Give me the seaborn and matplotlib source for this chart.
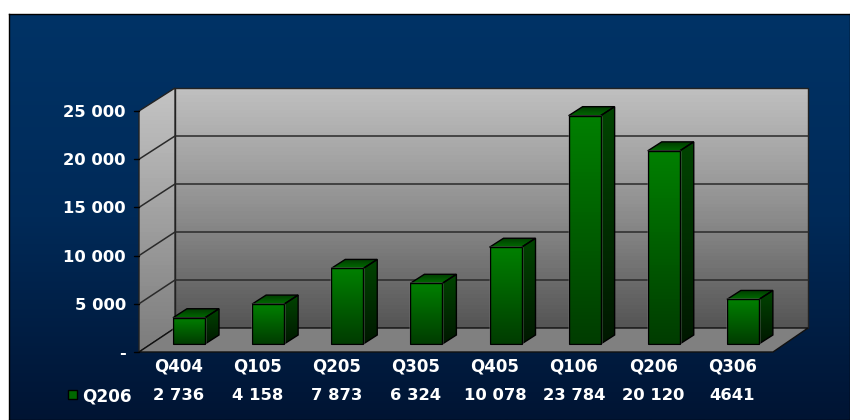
import matplotlib
matplotlib.use("Agg")
import matplotlib.pyplot as plt
import numpy as np
import pandas as pd
import seaborn as sns
from matplotlib.colors import LinearSegmentedColormap
from matplotlib.patches import Polygon, Rectangle

quarters = ["Q404", "Q105", "Q205", "Q305", "Q405", "Q106", "Q206", "Q306"]
values = [2736, 4158, 7873, 6324, 10078, 23784, 20120, 4641]
table_labels = ["2 736", "4 158", "7 873", "6 324", "10 078", "23 784", "20 120", "4641"]
y_ticks = [0, 5000, 10000, 15000, 20000, 25000]
y_labels = ["-", "5 000", "10 000", "15 000", "20 000", "25 000"]
series_name = "Q206"

sns.set_theme(style="white")
plt.rcParams["font.family"] = ["DejaVu Sans"]

W, H = 850, 420
df = pd.DataFrame({"quarter": quarters, "value": values})

fig = plt.figure(figsize=(W / 100, H / 100), dpi=100, facecolor="white")


def cmap(*cols):
    return LinearSegmentedColormap.from_list("g", cols)


# page background
bg = fig.add_axes([9 / W, 0, 1 - 9 / W, 1 - 14 / H])
bg.imshow(np.linspace(0, 1, 256).reshape(-1, 1), aspect="auto",
          cmap=cmap("#003366", "#002a58", "#001433"))
bg.set_xticks([])
bg.set_yticks([])
for s in bg.spines.values():
    s.set_color("black")
    s.set_linewidth(1)

# chart axes fill the figure, so walls and floor are not cut off
# category i is centred on pixel 189 + 79.125 * i, value 0 is on pixel row 344, 240px = 25000
PX = 1 / 79.125
PY = 25000 / 240


def px(x):
    return (x - 189) * PX


def py(y):
    return (344 - y) * PY


ax = fig.add_axes([0, 0, 1, 1])
ax.patch.set_alpha(0)
sns.barplot(data=df, x="quarter", y="value", ax=ax, color="#008000",
            width=32 / 79.125, saturation=1, zorder=5)
ax.set_axis_off()


def shade(pts, colors, z, edge="black", lw=1.0):
    # gradient filled polygon, pts in data units
    pts = np.array(pts)
    poly = Polygon(pts, closed=True, fc="none", ec="none")
    ax.add_patch(poly)
    im = ax.imshow(np.linspace(0, 1, 64).reshape(-1, 1), cmap=cmap(*colors), aspect="auto",
                   extent=(pts[:, 0].min(), pts[:, 0].max(), pts[:, 1].min(), pts[:, 1].max()),
                   zorder=z)
    im.set_clip_path(poly)
    ax.add_patch(Polygon(pts, closed=True, fc="none", ec=edge, lw=lw, zorder=z + 0.1))


# walls and floor
fx0, fx1, bx0, bx1 = px(139), px(773), px(175), px(808)
fy0, fy1, by0, by1 = py(352), py(111), py(328), py(88)
shade([(bx0, by0), (bx1, by0), (bx1, by1), (bx0, by1)], ("#c0c0c0", "#909090", "#555555"), 1,
      edge="#222222")
shade([(fx0, fy0), (bx0, by0), (bx0, by1), (fx0, fy1)], ("#c4c4c4", "#7c7c7c"), 1.2,
      edge="#222222")
ax.add_patch(Polygon([(fx0, fy0), (fx1, fy0), (bx1, by0), (bx0, by0)], closed=True,
                     fc="#808080", ec="#111111", lw=1, zorder=1.4))

# gridlines, with small ticks at the front edge
for t in y_ticks:
    yf = fy0 + t * (fy1 - fy0) / 25000
    yb = by0 + t * (by1 - by0) / 25000
    if t not in (0, 25000):
        ax.plot([fx0, bx0, bx1], [yf, yb, yb], color="#2a2a2a", lw=1.1, zorder=1.6)
    ax.plot([fx0 - 5 * PX, fx0], [yf, yf], color="black", lw=1, zorder=1.6)

# 3d faces of the bars
dx, dy = 14 * PX, 9 * PY
for bar, v in zip(list(ax.patches)[:len(values)], values):
    x0 = bar.get_x()
    x1 = x0 + bar.get_width()
    shade([(x0, v), (x1, v), (x1 + dx, v + dy), (x0 + dx, v + dy)], ("#003c00", "#006a00"), 3)
    shade([(x1, 0), (x1 + dx, dy), (x1 + dx, v + dy), (x1, v)], ("#004400", "#001800"), 3)
    shade([(x0, 0), (x1, 0), (x1, v), (x0, v)], ("#008000", "#003c00"), 6)

ax.set_xlim(px(0), px(W))
ax.set_ylim(py(H), py(0))

# axis text and the data table below the chart
for t, lab in zip(y_ticks, y_labels):
    y = 353.5 - t * 241 / 25000
    fig.text(126 / W, 1 - y / H, lab, ha="right", va="center", color="white",
             fontsize=11.8, fontweight="bold")
for i, (q, lab) in enumerate(zip(quarters, table_labels)):
    xc = 178.5 + i * 79.1
    fig.text(xc / W, 1 - 366 / H, q, ha="center", va="center", color="white",
             fontsize=12, fontweight="bold")
    fig.text(xc / W, 1 - 395 / H, lab, ha="center", va="center", color="white",
             fontsize=11.8, fontweight="bold")
fig.text(82 / W, 1 - 396 / H, series_name, ha="left", va="center", color="white",
         fontsize=12.2, fontweight="bold")
fig.add_artist(Rectangle((68 / W, 1 - 399 / H), 9 / W, 9 / H, transform=fig.transFigure,
                         fc="#006800", ec="black", lw=1))

fig.savefig("out.png", dpi=100)
